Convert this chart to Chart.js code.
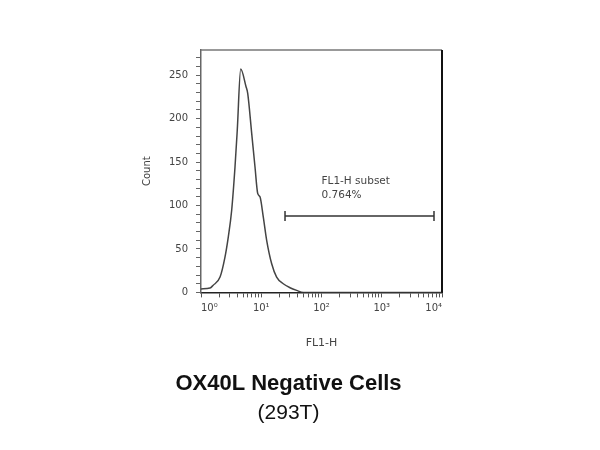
<!DOCTYPE html>
<html>
<head>
<meta charset="utf-8">
<script src="https://cdn.jsdelivr.net/npm/chart.js@4/dist/chart.umd.min.js"></script>
<style>
  html, body { margin: 0; padding: 0; background: #fff; }
  #wrap { width: 600px; height: 450px; }
</style>
</head>
<body>
<div id="wrap"><canvas id="myChart" width="600" height="450"></canvas></div>
<script>
// histogram (FL1-H channel, count)
var fl1Values = [1, 1.41, 1.58, 2.07, 2.5, 2.84, 3.23, 3.67, 4.0, 4.56, 5.58, 5.96, 6.94, 7.87, 8.73, 9.53, 10.8, 12.3, 14.9, 18.0, 23.2, 30.0, 38.7, 50, 10000];
var counts = [4, 5, 8, 17.7, 40.7, 64, 94.6, 144.6, 187, 257, 237, 229, 183, 144.6, 114, 110, 87, 60, 33, 17.7, 10, 5.4, 2.3, 0, 0];

// subset gate
var gateX = [24.8, 7365];
var gateY = 88;
var gateLabels = ['FL1-H subset', '0.764%'];
var gateLabelX = 100;
var gateLabelY = [128, 112];

var xMajor = [1, 10, 100, 1000, 10000];
var xSup = ['10\u2070', '10\u00b9', '10\u00b2', '10\u00b3', '10\u2074'];
var yLabelStep = 50;
var yMinorStep = 10;

var titleLine1 = 'OX40L Negative Cells';
var titleLine2 = '(293T)';

var curve = [];
for (var i = 0; i < fl1Values.length; i++) {
  curve.push({x: fl1Values[i], y: counts[i]});
}
var gate = [{x: gateX[0], y: gateY}, {x: gateX[1], y: gateY}];

// frame round the plot and the gate text
var framePlugin = {
  id: 'frame',
  afterDraw: function (chart) {
    var ctx = chart.ctx;
    var a = chart.chartArea;
    ctx.save();
    ctx.strokeStyle = '#777';
    ctx.lineWidth = 1.5;
    ctx.beginPath();
    ctx.moveTo(a.left, a.top);
    ctx.lineTo(a.right, a.top);
    ctx.stroke();
    ctx.strokeStyle = '#111';
    ctx.lineWidth = 2;
    ctx.beginPath();
    ctx.moveTo(a.right, a.top);
    ctx.lineTo(a.right, a.bottom);
    ctx.stroke();

    var xs = chart.scales.x, ys = chart.scales.y;
    ctx.fillStyle = '#444';
    ctx.font = '10.5px "DejaVu Sans"';
    ctx.textAlign = 'left';
    ctx.textBaseline = 'middle';
    for (var k = 0; k < gateLabels.length; k++) {
      ctx.fillText(gateLabels[k], xs.getPixelForValue(gateLabelX), ys.getPixelForValue(gateLabelY[k]));
    }
    ctx.restore();
  }
};

var config = {
  type: 'line',
  data: {
    datasets: [{
      data: curve,
      borderColor: '#444',
      borderWidth: 1.5,
      pointRadius: 0,
      fill: false,
      cubicInterpolationMode: 'monotone'
    }, {
      data: gate,
      borderColor: '#333',
      borderWidth: 1.5,
      pointStyle: 'line',
      rotation: 90,
      pointRadius: 5,
      pointBorderWidth: 1.5,
      pointBorderColor: '#333',
      fill: false
    }]
  },
  options: {
    responsive: false,
    animation: false,
    layout: { padding: { left: 135, right: 158, top: 50, bottom: 24 } },
    plugins: {
      legend: { display: false },
      tooltip: { enabled: false },
      subtitle: {
        display: true,
        position: 'bottom',
        weight: 1000,
        text: titleLine1,
        color: '#111',
        font: { family: '"Liberation Sans", Arial, sans-serif', size: 22, weight: 'bold' },
        padding: { top: 16, bottom: 4 }
      },
      title: {
        display: true,
        position: 'bottom',
        weight: 2000,
        text: titleLine2,
        color: '#111',
        font: { family: '"Liberation Sans", Arial, sans-serif', size: 21, weight: 'normal' },
        padding: { top: 0, bottom: 0 }
      }
    },
    scales: {
      x: {
        type: 'logarithmic',
        min: 1,
        max: 10000,
        afterBuildTicks: function (scale) {
          var t = [];
          for (var d = 0; d < 4; d++) {
            for (var m = 1; m < 10; m++) {
              t.push({value: m * xMajor[d], major: m == 1});
            }
          }
          t.push({value: xMajor[4], major: true});
          scale.ticks = t;
        },
        afterFit: function (scale) { scale.height = 62; },
        ticks: {
          autoSkip: false,
          maxRotation: 0,
          align: 'inner',
          padding: 5,
          color: '#444',
          font: { family: '"DejaVu Sans"', size: 10 },
          callback: function (value) {
            var idx = xMajor.indexOf(value);
            return idx >= 0 ? xSup[idx] : '';
          }
        },
        grid: { drawOnChartArea: false, tickLength: 5, color: '#555', tickColor: '#555' },
        border: { color: '#222', width: 1.5 },
        title: {
          display: true,
          text: 'FL1-H',
          color: '#444',
          font: { family: '"DejaVu Sans"', size: 11 },
          padding: { top: 0, bottom: 5 }
        }
      },
      y: {
        min: 0,
        max: 279,
        afterBuildTicks: function (scale) {
          var t = [];
          for (var v = 0; v <= 270; v += yMinorStep) {
            t.push({value: v});
          }
          scale.ticks = t;
        },
        afterFit: function (scale) { scale.width = 66; },
        ticks: {
          autoSkip: false,
          padding: 8,
          color: '#444',
          font: { family: '"DejaVu Sans"', size: 10 },
          callback: function (value) {
            return value % yLabelStep == 0 ? String(value) : '';
          }
        },
        grid: { drawOnChartArea: false, tickLength: 5, color: '#666', tickColor: '#666' },
        border: { color: '#666', width: 1.5 },
        title: {
          display: true,
          text: 'Count',
          color: '#444',
          font: { family: '"DejaVu Sans"', size: 10 },
          padding: { top: 6, bottom: 0 }
        }
      }
    }
  },
  plugins: [framePlugin]
};

var myChart = new Chart(document.getElementById('myChart').getContext('2d'), config);
</script>
</body>
</html>
